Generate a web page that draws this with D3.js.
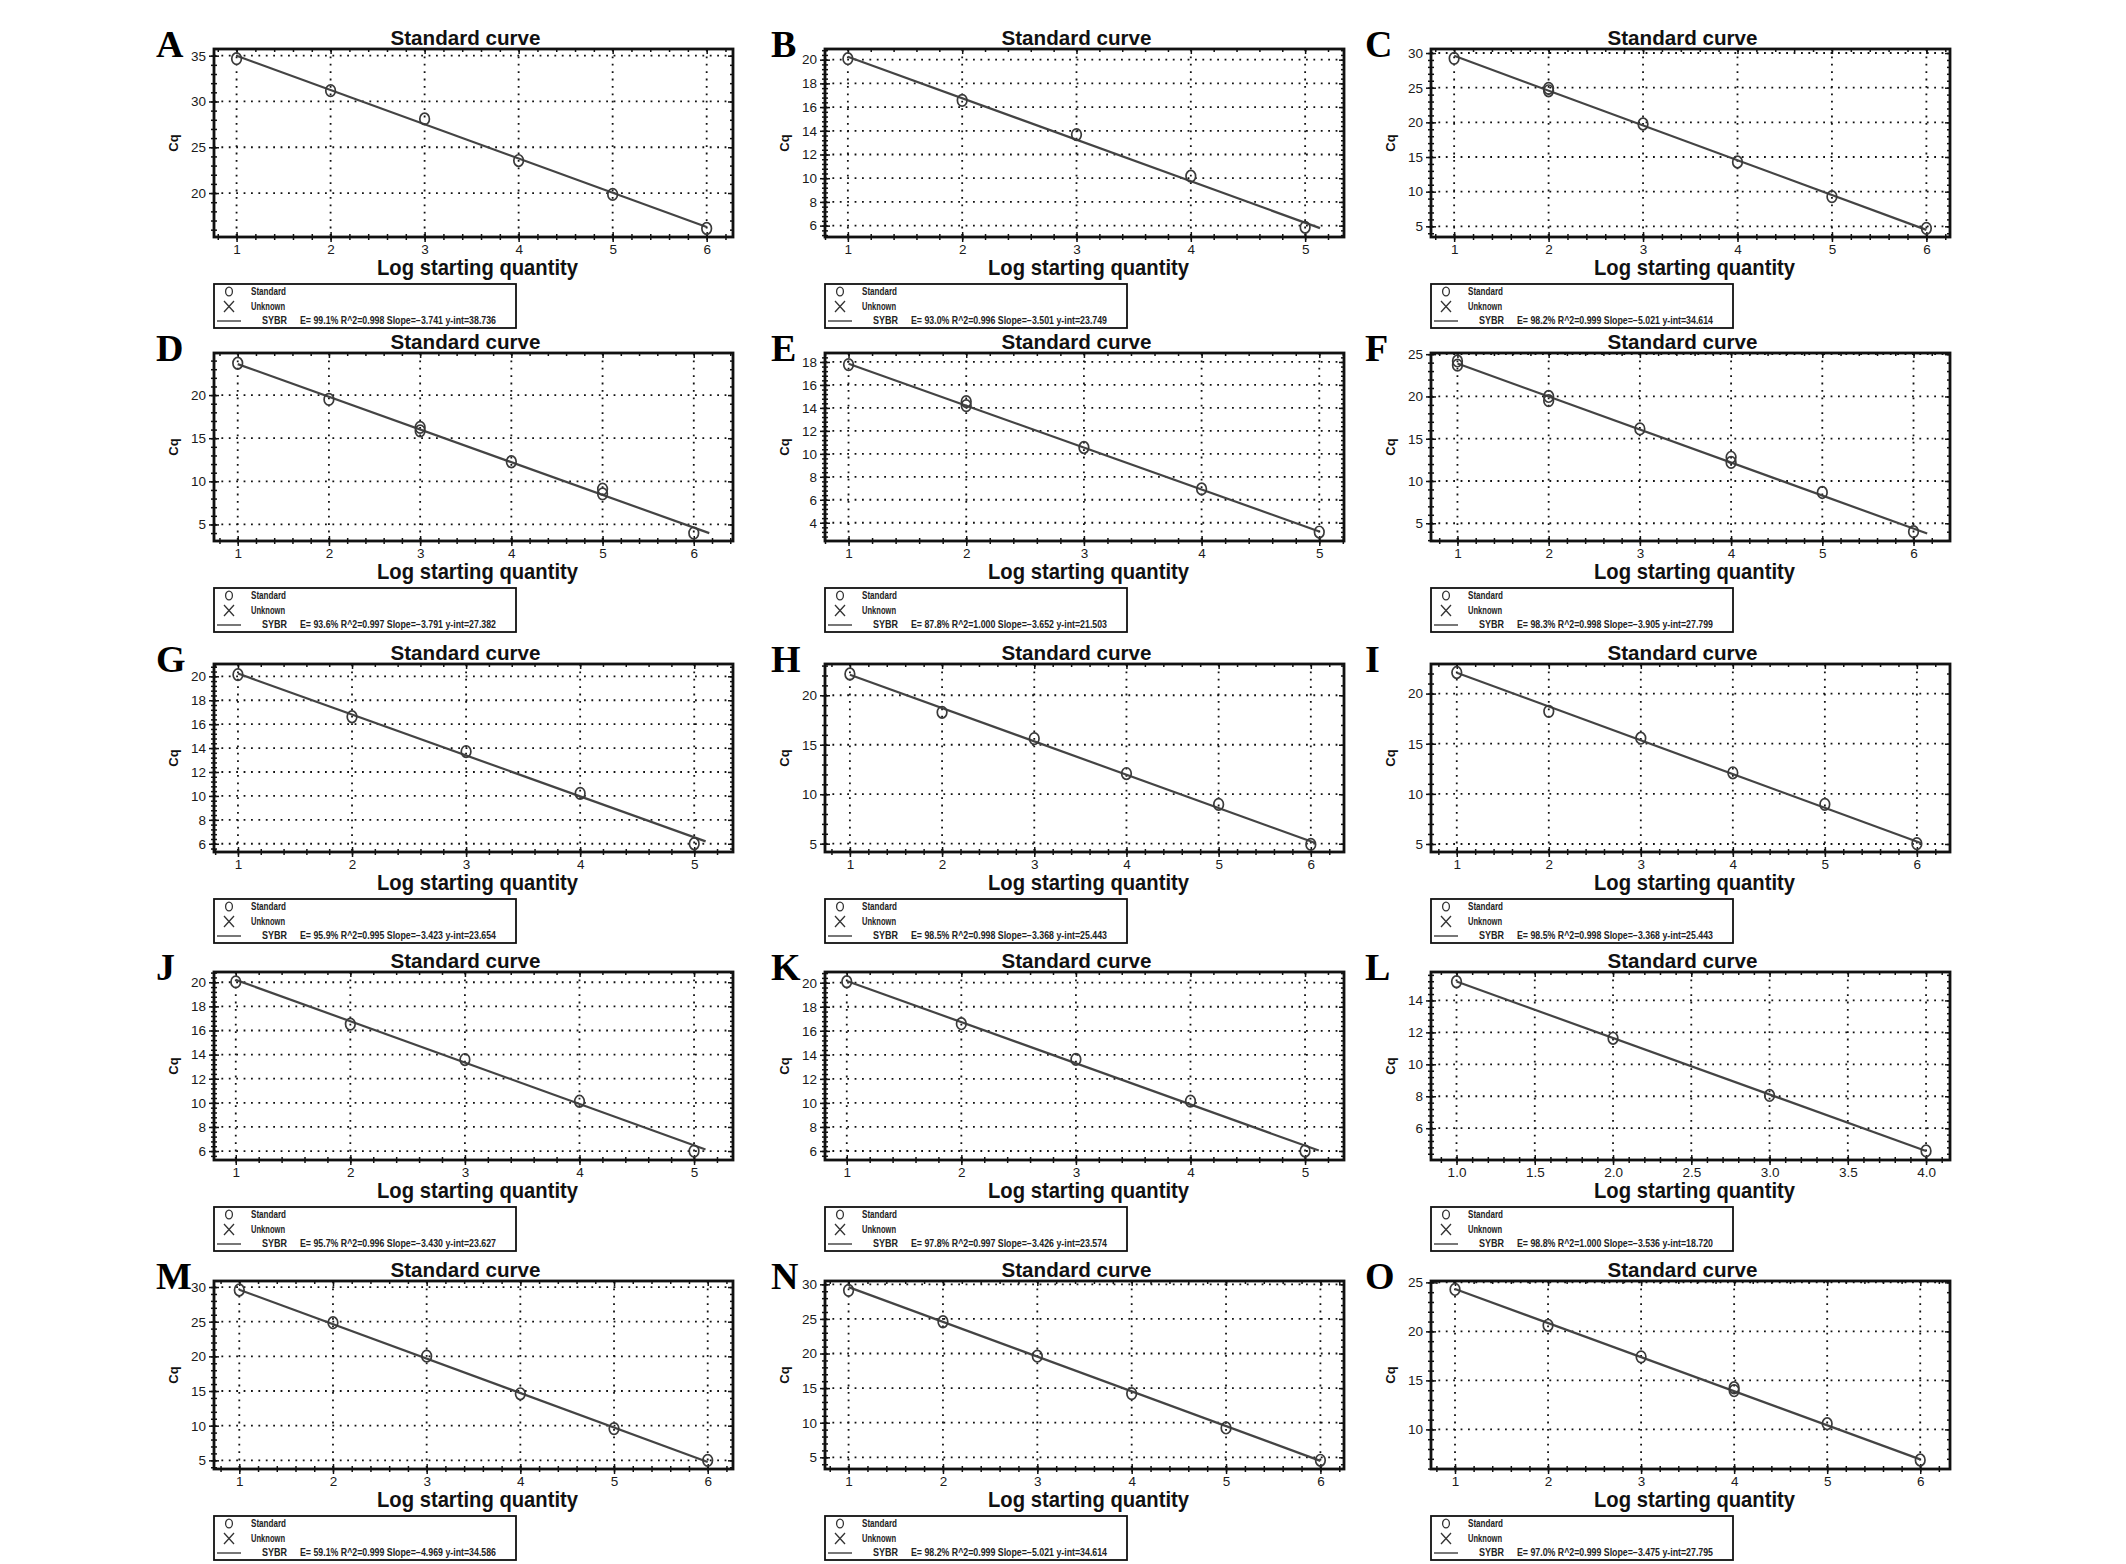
<!DOCTYPE html>
<html>
<head>
<meta charset="utf-8">
<script src="https://cdn.jsdelivr.net/npm/d3@7"></script>
<style>
  body { margin: 0; background: #fff; }
  svg { display: block; }
  .tick text { font-family: "Liberation Sans", Arial, sans-serif; font-size: 13.5px; fill: #1a1a1a; }
</style>
</head>
<body>
<svg id="chart" width="2126" height="1564"></svg>
<script>
// panel letters and axis ranges
var letters = ["A","B","C","D","E","F","G","H","I","J","K","L","M","N","O"];
var xDomains = [[0.76,6.28],[0.8,5.34],[0.755,6.25],[0.74,6.43],[0.8,5.21],[0.71,6.4],[0.79,5.34],[0.73,6.36],
                [0.72,6.36],[0.81,5.34],[0.81,5.34],[0.837,4.153],[0.73,6.27],[0.75,6.25],[0.742,6.32]];
var yDomains = [[15.2,35.73],[5.04,20.9],[3.46,30.58],[3.08,24.88],[2.41,18.78],[2.9,25.14],[5.31,21.03],[4.16,23.16],
                [4.2,22.95],[5.26,20.85],[5.25,20.89],[4.01,15.78],[3.75,30.87],[3.31,30.48],[5.96,25.14]];

// tick labels
var xTicks6 = [1,2,3,4,5,6];
var xTicks5 = [1,2,3,4,5];
var xTicksL = [1.0,1.5,2.0,2.5,3.0,3.5,4.0];
var xTicks = [xTicks6,xTicks5,xTicks6,xTicks6,xTicks5,xTicks6,xTicks5,xTicks6,xTicks6,xTicks5,xTicks5,xTicksL,xTicks6,xTicks6,xTicks6];
var xMinorStep = [0.2,0.2,0.2,0.2,0.2,0.2,0.2,0.2,0.2,0.2,0.2,0.1,0.2,0.2,0.2];
var yTicks = [
  [20,25,30,35], [6,8,10,12,14,16,18,20], [5,10,15,20,25,30], [5,10,15,20],
  [4,6,8,10,12,14,16,18], [5,10,15,20,25], [6,8,10,12,14,16,18,20], [5,10,15,20],
  [5,10,15,20], [6,8,10,12,14,16,18,20], [6,8,10,12,14,16,18,20], [6,8,10,12,14],
  [5,10,15,20,25,30], [5,10,15,20,25,30], [10,15,20,25]
];

// standards: log starting quantity and Cq
var pointX = [
  [1,2,3,4,5,6], [1,2,3,4,5], [1,2,2,3,4,5,6], [1,2,3,3,4,5,5,6], [1,2,2,3,4,5],
  [1,1,2,2,3,4,4,5,6], [1,2,3,4,5], [1,2,3,4,5,6], [1,2,3,4,5,6], [1,2,3,4,5],
  [1,2,3,4,5], [1,2,3,4], [1,2,3,4,5,6], [1,2,3,4,5,6], [1,2,3,4,4,5,6]
];
var pointY = [
  [34.67,31.18,28.09,23.55,19.85,16.13],
  [20.08,16.57,13.68,10.17,5.86],
  [29.23,24.9,24.55,19.76,14.28,9.28,4.71],
  [23.69,19.5,16.25,15.85,12.27,9.1,8.55,4.0],
  [17.77,14.55,14.2,10.55,6.94,3.19],
  [24.2,23.7,20.0,19.5,16.16,12.8,12.2,8.64,4.0],
  [20.14,16.62,13.71,10.21,6.0],
  [22.15,18.28,15.62,12.09,8.97,4.93],
  [22.1,18.23,15.55,12.1,8.95,5.03],
  [20.03,16.53,13.59,10.13,6.0],
  [20.08,16.59,13.62,10.15,6.0],
  [15.17,11.63,8.05,4.58],
  [29.57,24.85,20.03,14.6,9.58,5.0],
  [29.13,24.59,19.62,14.21,9.24,4.57],
  [24.28,20.62,17.4,14.25,13.95,10.58,6.88]
];

// fit results shown in the legends
var efficiency = ["99.1","93.0","98.2","93.6","87.8","98.3","95.9","98.5","98.5","95.7","97.8","98.8","59.1","98.2","97.0"];
var rSquared = ["0.998","0.996","0.999","0.997","1.000","0.998","0.995","0.998","0.998","0.996","0.997","1.000","0.999","0.999","0.999"];
var slopes = [-3.741,-3.501,-5.021,-3.791,-3.652,-3.905,-3.423,-3.368,-3.368,-3.430,-3.426,-3.536,-4.969,-5.021,-3.475];
var intercepts = [38.736,23.749,34.614,27.382,21.503,27.799,23.654,25.443,25.443,23.627,23.574,18.720,34.586,34.614,27.795];
var fitStart = [1,1,1,1,1,1,1,1,1,1,1,1,1,1,1];
var fitEnd = [6.0,5.13,6.0,6.17,5.0,6.15,5.1,6.05,6.05,5.1,5.12,4.0,6.0,6.0,6.0];

var svg = d3.select("#chart");
svg.append("rect").attr("width", 2126).attr("height", 1564).attr("fill", "#fff");

var colX = [214, 825, 1431];
var rowY = [49, 353, 664, 972, 1281];
var letterDx = [-58, -54, -66];
var W = 519, H = 188;
var f3 = d3.format(".3f");

letters.forEach(function(letter, i) {
  var col = i % 3, row = Math.floor(i / 3);
  var g = svg.append("g").attr("transform", "translate(" + colX[col] + "," + rowY[row] + ")");

  var x = d3.scaleLinear().domain(xDomains[i]).range([0, W]);
  var y = d3.scaleLinear().domain(yDomains[i]).range([H, 0]);

  var xd = xDomains[i], yd = yDomains[i];
  var xs = xMinorStep[i];
  var xMinor = d3.range(Math.ceil(xd[0] / xs) * xs, xd[1], xs);
  var ys = (yTicks[i][1] - yTicks[i][0]) / 5;
  var yMinor = d3.range(Math.ceil(yd[0] / ys) * ys, yd[1], ys);

  // dotted grid
  g.append("g").selectAll("line").data(xTicks[i]).enter().append("line")
    .attr("x1", function(d) { return x(d); }).attr("x2", function(d) { return x(d); })
    .attr("y1", 0).attr("y2", H)
    .attr("stroke", "#111").attr("stroke-width", 1.8).attr("stroke-dasharray", "1.8,5.6");
  g.append("g").selectAll("line").data(yTicks[i]).enter().append("line")
    .attr("y1", function(d) { return y(d); }).attr("y2", function(d) { return y(d); })
    .attr("x1", 0).attr("x2", W)
    .attr("stroke", "#111").attr("stroke-width", 1.8).attr("stroke-dasharray", "1.8,5.6");

  function clean(sel) { sel.select(".domain").remove(); sel.selectAll("line").attr("stroke", "#111").attr("stroke-width", 1.5); }

  // minor ticks, in and out, all four sides
  [3, -3].forEach(function(s) {
    g.append("g").attr("transform", "translate(0," + H + ")")
      .call(d3.axisBottom(x).tickValues(xMinor).tickSize(s).tickFormat("")).call(clean);
    g.append("g").call(d3.axisLeft(y).tickValues(yMinor).tickSize(s).tickFormat("")).call(clean);
  });
  g.append("g").call(d3.axisTop(x).tickValues(xMinor).tickSize(-3).tickFormat("")).call(clean);
  g.append("g").attr("transform", "translate(" + W + ",0)")
    .call(d3.axisRight(y).tickValues(yMinor).tickSize(-3).tickFormat("")).call(clean);

  // major ticks with labels
  var xFmt = (letter === "L") ? d3.format(".1f") : d3.format("d");
  g.append("g").attr("transform", "translate(0," + H + ")")
    .call(d3.axisBottom(x).tickValues(xTicks[i]).tickSize(5).tickPadding(2).tickFormat(xFmt)).call(clean);
  g.append("g").attr("transform", "translate(0," + H + ")")
    .call(d3.axisBottom(x).tickValues(xTicks[i]).tickSize(-5).tickFormat("")).call(clean);
  g.append("g").call(d3.axisLeft(y).tickValues(yTicks[i]).tickSize(5).tickPadding(3).tickFormat(d3.format("d"))).call(clean);
  g.append("g").call(d3.axisLeft(y).tickValues(yTicks[i]).tickSize(-5).tickFormat("")).call(clean);
  g.append("g").call(d3.axisTop(x).tickValues(xTicks[i]).tickSize(-5).tickFormat("")).call(clean);
  g.append("g").attr("transform", "translate(" + W + ",0)")
    .call(d3.axisRight(y).tickValues(yTicks[i]).tickSize(-5).tickFormat("")).call(clean);

  // frame
  g.append("rect").attr("width", W).attr("height", H)
    .attr("fill", "none").attr("stroke", "#111").attr("stroke-width", 2.8);

  // fitted line
  var fit = [fitStart[i], fitEnd[i]];
  g.append("path")
    .datum(fit)
    .attr("d", d3.line().x(function(d) { return x(d); }).y(function(d) { return y(intercepts[i] + slopes[i] * d); }))
    .attr("stroke", "#444").attr("stroke-width", 2.2).attr("fill", "none");

  // standards
  g.append("g").selectAll("ellipse").data(pointX[i]).enter().append("ellipse")
    .attr("cx", function(d) { return x(d); })
    .attr("cy", function(d, j) { return y(pointY[i][j]); })
    .attr("rx", 4.8).attr("ry", 5.8)
    .attr("fill", "none").attr("stroke", "#3a3a3a").attr("stroke-width", 1.7);

  // title
  g.append("text").attr("x", W / 2 - 8).attr("y", -4).attr("text-anchor", "middle")
    .attr("font-family", "Liberation Sans, Arial, sans-serif").attr("font-weight", "bold")
    .attr("font-size", 20).attr("textLength", 150).attr("lengthAdjust", "spacingAndGlyphs")
    .attr("fill", "#111").text("Standard curve");

  // axis titles
  g.append("text").attr("x", W / 2 + 4).attr("y", H + 38).attr("text-anchor", "middle")
    .attr("font-family", "Liberation Sans, Arial, sans-serif").attr("font-weight", "bold")
    .attr("font-size", 22).attr("textLength", 201).attr("lengthAdjust", "spacingAndGlyphs")
    .attr("fill", "#111").text("Log starting quantity");
  g.append("text").attr("transform", "translate(-36," + (H / 2) + ") rotate(-90)")
    .attr("text-anchor", "middle")
    .attr("font-family", "Liberation Sans, Arial, sans-serif").attr("font-weight", "bold")
    .attr("font-size", 13).attr("fill", "#111").text("Cq");

  // panel letter
  g.append("text").attr("x", letterDx[col]).attr("y", 8)
    .attr("font-family", "Liberation Serif, Times New Roman, serif").attr("font-weight", "bold")
    .attr("font-size", 38).attr("fill", "#000").text(letter);

  // legend
  var lg = g.append("g").attr("transform", "translate(0," + (H + 47) + ")");
  lg.append("rect").attr("width", 302).attr("height", 44)
    .attr("fill", "#fff").attr("stroke", "#111").attr("stroke-width", 1.8);
  lg.append("ellipse").attr("cx", 15).attr("cy", 7.5).attr("rx", 3.4).attr("ry", 4.4)
    .attr("fill", "none").attr("stroke", "#333").attr("stroke-width", 1.3);
  lg.append("path").attr("d", "M10,17L20,28M20,17L10,28").attr("stroke", "#333").attr("stroke-width", 1.3);
  lg.append("line").attr("x1", 3).attr("x2", 27).attr("y1", 37).attr("y2", 37)
    .attr("stroke", "#555").attr("stroke-width", 1.6);
  var tf = "Liberation Sans Narrow, Liberation Sans, Arial, sans-serif";
  lg.append("text").attr("x", 37).attr("y", 11).attr("font-family", tf).attr("font-weight", "bold")
    .attr("font-size", 10).attr("textLength", 35).attr("lengthAdjust", "spacingAndGlyphs").attr("fill", "#222").text("Standard");
  lg.append("text").attr("x", 37).attr("y", 26).attr("font-family", tf).attr("font-weight", "bold")
    .attr("font-size", 10).attr("textLength", 34).attr("lengthAdjust", "spacingAndGlyphs").attr("fill", "#222").text("Unknown");
  lg.append("text").attr("x", 48).attr("y", 40).attr("font-family", tf).attr("font-weight", "bold")
    .attr("font-size", 10).attr("textLength", 25).attr("lengthAdjust", "spacingAndGlyphs").attr("fill", "#222").text("SYBR");
  lg.append("text").attr("x", 86).attr("y", 40).attr("font-family", tf).attr("font-weight", "bold")
    .attr("font-size", 10).attr("textLength", 196).attr("lengthAdjust", "spacingAndGlyphs").attr("fill", "#222")
    .text("E= " + efficiency[i] + "% R^2=" + rSquared[i] + " Slope=" + f3(slopes[i]) + " y-int=" + f3(intercepts[i]));
});
</script>
</body>
</html>
